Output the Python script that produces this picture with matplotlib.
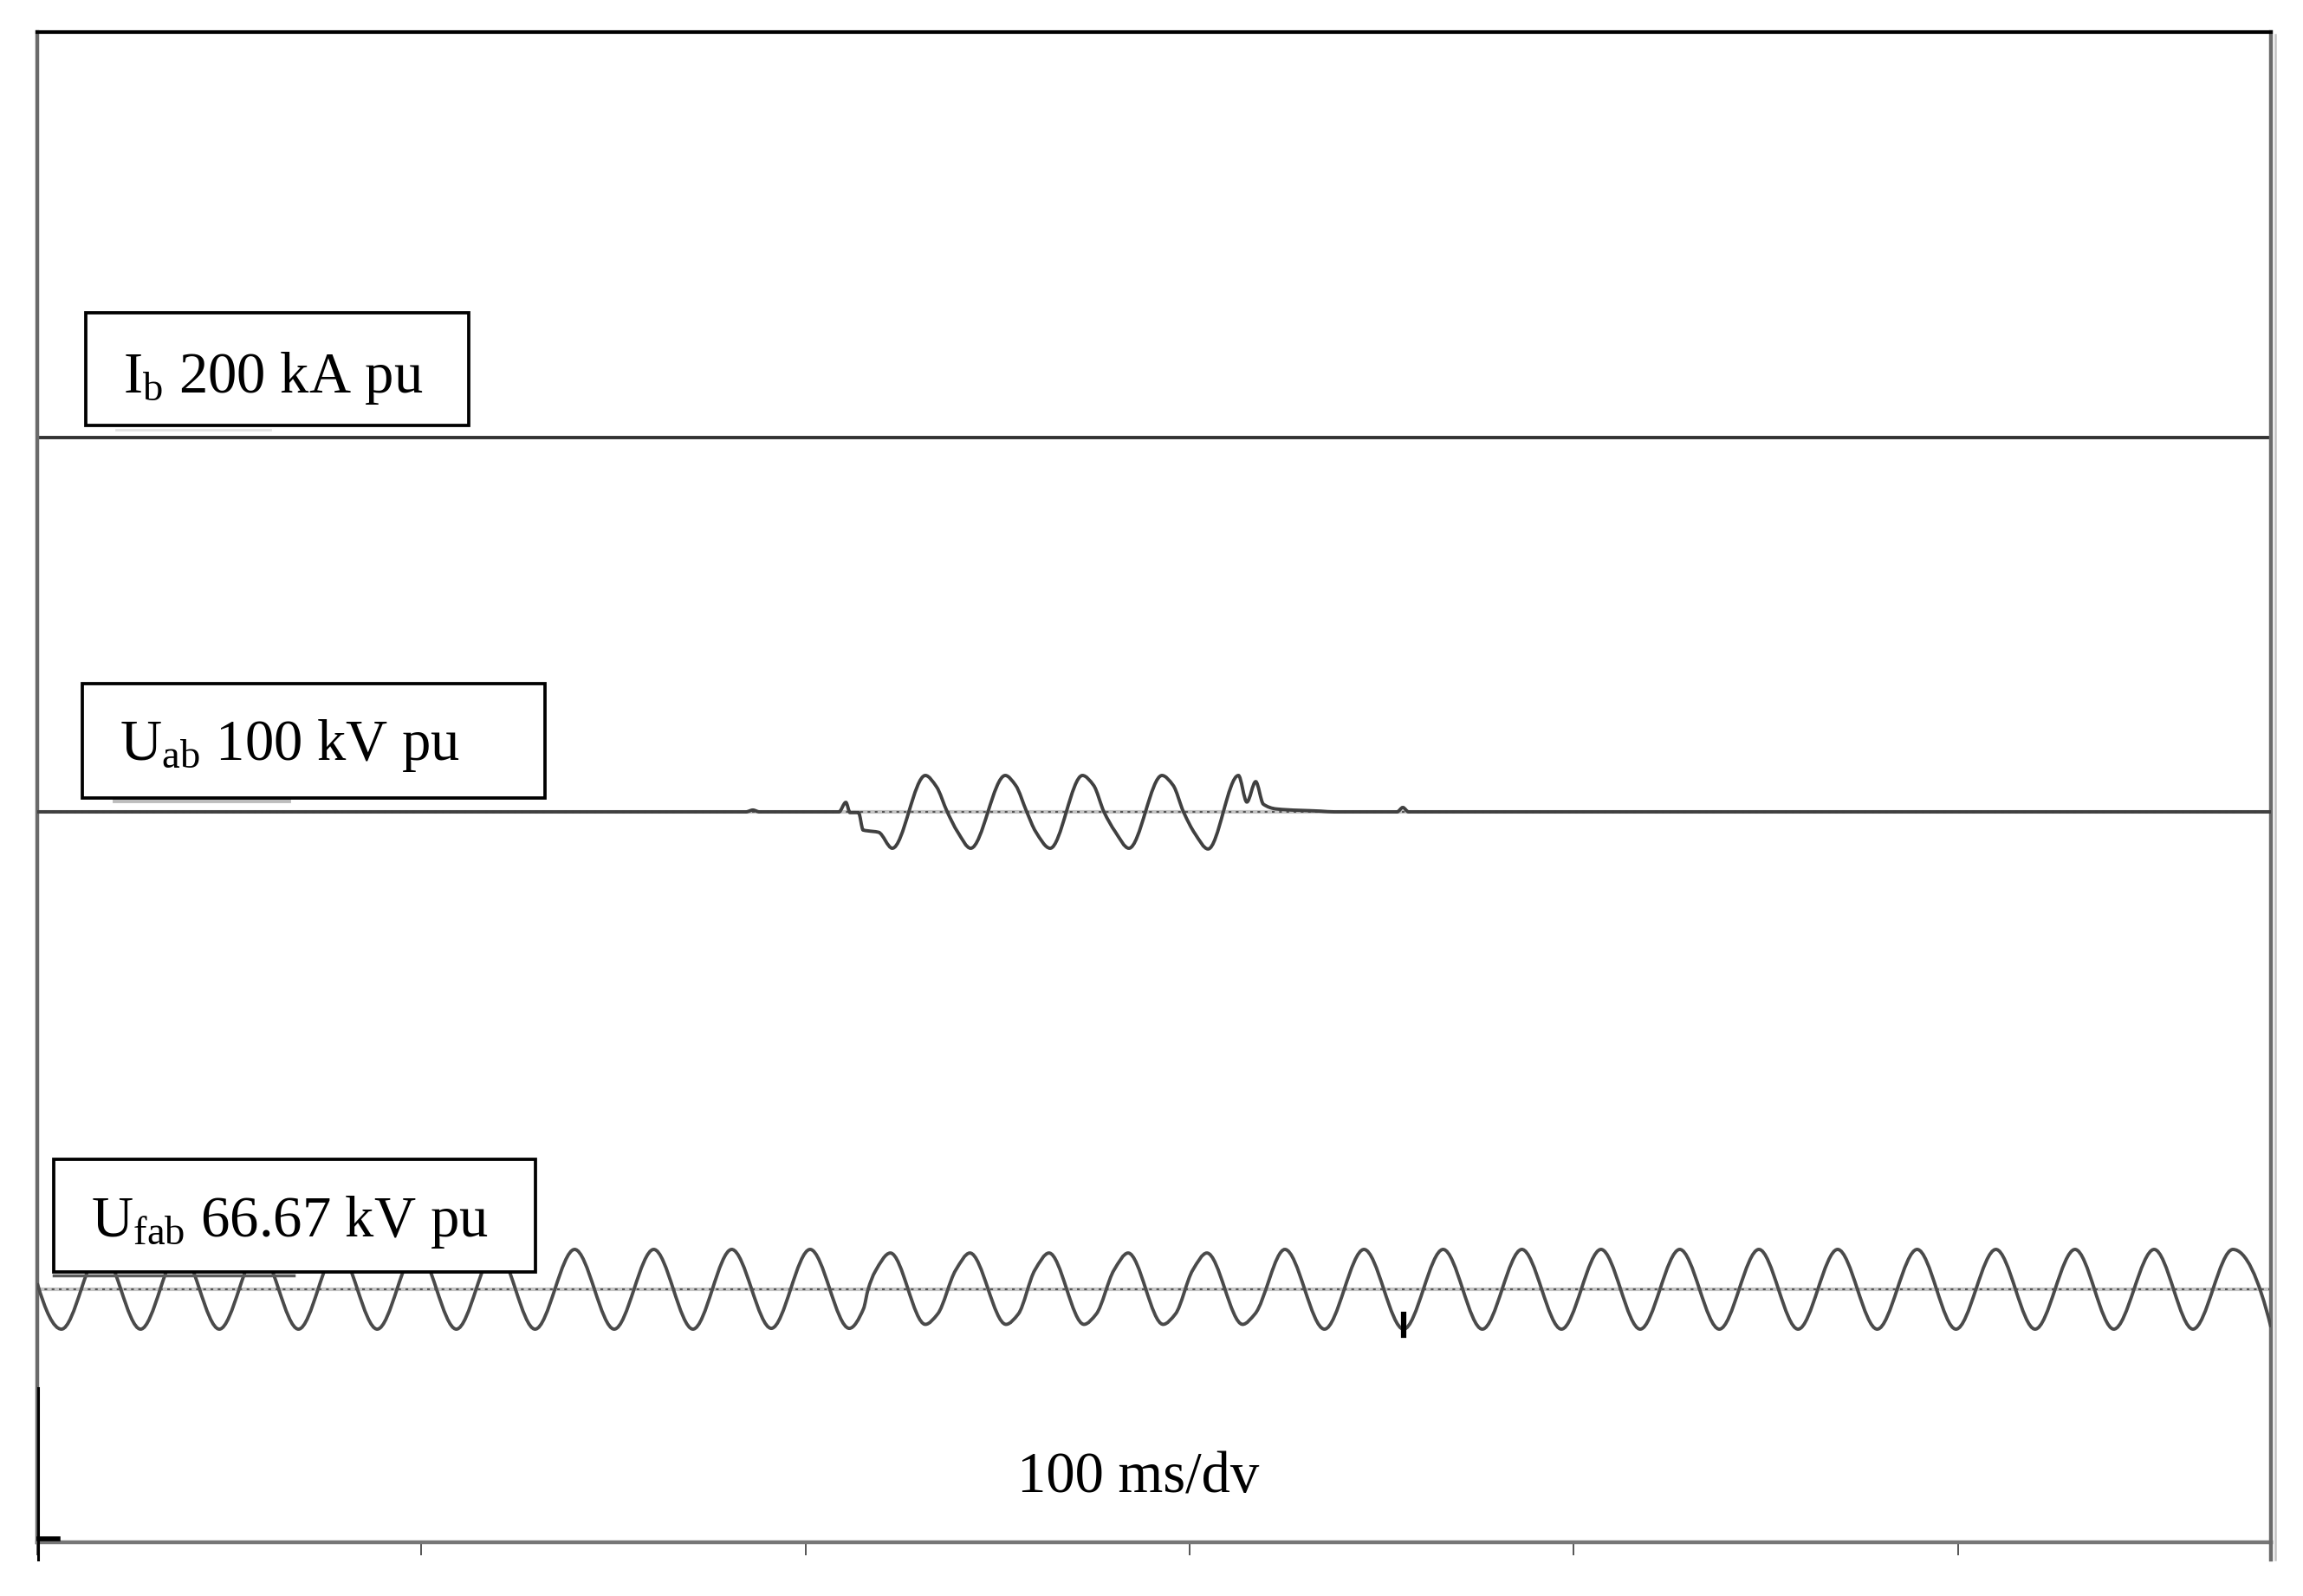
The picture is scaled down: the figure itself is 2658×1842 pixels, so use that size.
import numpy as np
import matplotlib
matplotlib.use("Agg")
import matplotlib.pyplot as plt
from matplotlib.path import Path
from matplotlib.patches import PathPatch, Rectangle
from matplotlib.lines import Line2D

plt.rcParams['font.family'] = ['Liberation Serif', 'DejaVu Serif']
plt.rcParams['mathtext.fontset'] = 'custom'
plt.rcParams['mathtext.rm'] = 'Liberation Serif'

# ---- datos (t en ms, valores normalizados al pico)
t_end = 581.5

ib_t = [0, 581.5]
ib_v = [0, 0]

uab_t = [0, 184.5, 186.3, 188.0, 208.7, 210.5, 211.6, 213.8, 215.0, 216.1, 219.0, 222.6,
         231.2, 234.1, 236.9, 239.6, 243.0,
         252.0, 254.7, 257.6, 259.9, 263.7,
         272.1, 275.0, 277.7, 280.6, 284.2,
         292.8, 295.7, 298.4, 301.4, 304.8,
         312.7, 314.9, 317.2, 319.2, 322.6, 334.1, 337.7, 354.0, 355.5, 357.0, 581.5]
uab_v = [0, 0, 0.05, 0, 0, 0.26, -0.02, -0.02, -0.5, -0.52, -0.56, -1.0,
         1.0, 0.69, 0.0, -0.55, -1.0,
         1.0, 0.73, 0.0, -0.54, -1.0,
         1.0, 0.73, 0.0, -0.54, -1.0,
         1.0, 0.73, 0.0, -0.6, -1.02,
         1.0, 0.27, 0.83, 0.21, 0.08, 0.02, 0, 0, 0.12, 0, 0]

ufab_t = [0, 6.3, 16.6, 26.9, 37.1, 47.4, 57.7, 68.0, 78.2, 88.5, 98.8, 109.1, 119.4,
          129.6, 139.9, 150.2, 160.5, 170.7, 180.8, 191.1, 201.2, 211.4,
          215.1, 216.3, 218.1, 222.1,
          231.2, 234.4, 239.1, 242.8,
          252.2, 255.4, 259.7, 263.4,
          272.5, 275.7, 280.3, 284.0,
          293.1, 296.3, 300.8, 304.5,
          313.8, 317.0,
          324.8, 335.1, 345.4, 355.7, 366.0, 376.2, 386.5, 396.8, 407.1, 417.3, 427.6,
          437.9, 448.2, 458.4, 468.7, 479.0, 489.4, 499.5, 509.9, 520.1, 530.5, 540.6,
          551.1, 561.2, 571.6, 581.5]
ufab_v = [0.15, -1, 1, -1, 1, -1, 1, -1, 1, -1, 1, -1, 1,
          -1, 1, -1, 1, -1, 1, -0.98, 1, -0.98,
          -0.49, 0.0, 0.44, 0.91,
          -0.88, -0.62, 0.48, 0.91,
          -0.88, -0.62, 0.48, 0.91,
          -0.88, -0.62, 0.48, 0.91,
          -0.88, -0.62, 0.48, 0.91,
          -0.88, -0.62,
          1, -1, 1, -1, 1, -1, 1, -1, 1, -1, 1,
          -1, 1, -1, 1, -1, 1, -1, 1, -1, 1, -1,
          1, -1, 1, -0.95]

cursor_t = 355.6   # marca negra sobre Ufab

labels = [r'$\mathregular{I_b}$ 200 kA pu',
          r'$\mathregular{U_{ab}}$ 100 kV pu',
          r'$\mathregular{U_{fab}}$ 66.67 kV pu']
escala = '100 ms/dv'
ticks = [0, 100, 200, 300, 400, 500]

# ---- geometria (pixeles de la imagen)
W, H = 2658, 1842
def fx(x):
    return x / W
def fy(y):
    return 1 - y / H

base_ib, base_uab, base_ufab = 12.75, 8.43, 2.92
gain_uab, gain_ufab = 0.42, 0.46


def end_slope(h0, h1, d0, d1):
    m = ((2 * h0 + h1) * d0 - h0 * d1) / (h0 + h1)
    if np.sign(m) != np.sign(d0):
        m = 0.0
    elif np.sign(d0) != np.sign(d1) and abs(m) > abs(3 * d0):
        m = 3 * d0
    return m


def curva(x, y):
    # curva suave (hermite monotona) dibujada como bezier por matplotlib
    x = np.asarray(x, float)
    y = np.asarray(y, float)
    h = np.diff(x)
    d = np.diff(y) / h
    n = len(x)
    m = np.zeros(n)
    for i in range(1, n - 1):
        if d[i - 1] * d[i] > 0:
            w1 = 2 * h[i] + h[i - 1]
            w2 = h[i] + 2 * h[i - 1]
            m[i] = (w1 + w2) / (w1 / d[i - 1] + w2 / d[i])
    m[0] = end_slope(h[0], h[1], d[0], d[1])
    m[-1] = end_slope(h[-1], h[-2], d[-1], d[-2])
    verts = [(x[0], y[0])]
    codes = [Path.MOVETO]
    for i in range(n - 1):
        verts += [(x[i] + h[i] / 3, y[i] + m[i] * h[i] / 3),
                  (x[i + 1] - h[i] / 3, y[i + 1] - m[i + 1] * h[i] / 3),
                  (x[i + 1], y[i + 1])]
        codes += [Path.CURVE4] * 3
    return Path(verts, codes)


fig = plt.figure(figsize=(W / 100, H / 100), dpi=100)
ax = fig.add_axes([fx(43), fy(1780), (2621 - 43) / W, (1780 - 37) / H])
ax.set_xlim(0, t_end)
ax.set_ylim(0, 17.43)

# lineas de referencia (cero)
for b in [base_uab, base_ufab]:
    ax.plot([0, t_end], [b, b], color='#c4c4c4', lw=3.0, zorder=1)
    ax.plot([0, t_end], [b, b], color='#555555', lw=1.5, ls=(0, (1.5, 2.5)), zorder=1)

# Ib
ax.plot(ib_t, [base_ib + v for v in ib_v], color='#333333', lw=2.8, zorder=2)

# Uab
ua = curva(uab_t, base_uab + gain_uab * np.array(uab_v))
ax.add_patch(PathPatch(ua, fill=False, edgecolor='#404040', lw=2.8, zorder=3))

# Ufab
uf = curva(ufab_t, base_ufab + gain_ufab * np.array(ufab_v))
ax.add_patch(PathPatch(uf, fill=False, edgecolor='#4a4a4a', lw=2.8, zorder=3))
ax.plot([cursor_t, cursor_t], [base_ufab - 0.62 * gain_ufab, base_ufab - 1.15 * gain_ufab],
        color='black', lw=4.5, zorder=4)

# ejes
ax.set_yticks([])
ax.set_xticks(ticks)
ax.tick_params(axis='x', direction='out', length=11, width=1.4, color='#555555',
               labelbottom=False)
ax.spines['top'].set_color('black')
ax.spines['top'].set_linewidth(3.0)
for s in ['left', 'right']:
    ax.spines[s].set_color('#6a6a6a')
    ax.spines[s].set_linewidth(3.2)
ax.spines['bottom'].set_color('#777777')
ax.spines['bottom'].set_linewidth(3.2)

# detalles del marco
fig.add_artist(Line2D([fx(44), fx(44)], [fy(1602), fy(1800)], color='black', lw=2.2))
fig.add_artist(Line2D([fx(2621), fx(2621)], [fy(1780), fy(1800)], color='#6a6a6a', lw=3.2))
fig.add_artist(Line2D([fx(2626), fx(2626)], [fy(40), fy(1800)], color='#c4c4c4', lw=1.8))
fig.add_artist(Line2D([fx(45), fx(67)], [fy(1776), fy(1776)], color='black', lw=4))

# sombras bajo las etiquetas
fig.add_artist(Line2D([fx(134), fx(312)], [fy(496), fy(496)], color='#e2e2e2', lw=2))
fig.add_artist(Line2D([fx(132), fx(333)], [fy(924), fy(924)], color='#bdbdbd', lw=3.5))
fig.add_artist(Line2D([fx(62), fx(339)], [fy(1472), fy(1472)], color='#5a5a5a', lw=2.5))

# cajas con las escalas
cajas = [(99, 361, 541, 491), (95, 789, 629, 921), (62, 1338, 618, 1468)]
textos = [(142, 453), (138, 877), (105, 1427)]
for (x0, y0, x1, y1), (tx, ty), lab in zip(cajas, textos, labels):
    fig.add_artist(Rectangle((fx(x0), fy(y1)), (x1 - x0) / W, (y1 - y0) / H,
                             transform=fig.transFigure, facecolor='white',
                             edgecolor='black', lw=2.7, zorder=5))
    fig.text(fx(tx), fy(ty), lab, fontsize=48, ha='left', va='baseline', zorder=6)

fig.text(fx(1174), fy(1722), escala, fontsize=48, ha='left', va='baseline')

fig.savefig('out.png', dpi=100, facecolor='white')
